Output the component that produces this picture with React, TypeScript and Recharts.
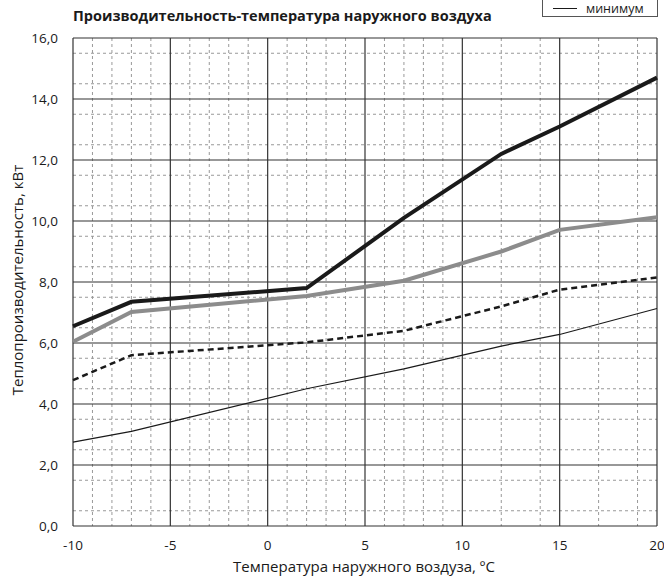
import React from 'react'
import { LineChart, Line, XAxis, YAxis, CartesianGrid } from 'recharts'

// outdoor temperature, °C
const temps = [-10, -7, 2, 7, 12, 15, 20]

// heating capacity, kW
const maxCapacity = [6.55, 7.35, 7.8, 10.1, 12.2, 13.1, 14.7]
const nominalCapacity = [6.04, 7.02, 7.54, 8.04, 9.0, 9.71, 10.12]
const midCapacity = [4.78, 5.6, 6.02, 6.4, 7.2, 7.75, 8.15]
const minCapacity = [2.75, 3.1, 4.5, 5.15, 5.9, 6.28, 7.13]

const xTicks = [-10, -5, 0, 5, 10, 15, 20]
const yTicks = [0, 2, 4, 6, 8, 10, 12, 14, 16]
const xMinor = [-9, -8, -7, -6, -4, -3, -2, -1, 1, 2, 3, 4, 6, 7, 8, 9, 11, 12, 13, 14, 16, 17, 18, 19]
const yMinor = [0.5, 1, 1.5, 2.5, 3, 3.5, 4.5, 5, 5.5, 6.5, 7, 7.5, 8.5, 9, 9.5, 10.5, 11, 11.5, 12.5, 13, 13.5, 14.5, 15, 15.5]

const data = temps.map((t, i) => ({
  t,
  max: maxCapacity[i],
  nom: nominalCapacity[i],
  mid: midCapacity[i],
  min: minCapacity[i],
}))

const FONT = '"Open Sans", "Noto Sans", sans-serif'
const fmt = (v: number) => v.toFixed(1).replace('.', ',')

export default function App() {
  return (
    <div style={{ position: 'absolute', left: 0, top: 0, width: 664, height: 586, background: '#fff', fontFamily: FONT, color: '#1a1a1a' }}>
      <div style={{ position: 'absolute', left: 73, top: 6, fontSize: 14.5, fontWeight: 700, whiteSpace: 'nowrap' }}>
        Производительность-температура наружного воздуха
      </div>

      <div style={{ position: 'absolute', left: 542, top: -2, width: 116, height: 19, border: '1px solid #555', boxSizing: 'border-box' }}>
        <div style={{ position: 'absolute', left: 10, top: 9, width: 24, borderTop: '1px solid #1a1a1a' }} />
        <div style={{ position: 'absolute', left: 43, top: 1, fontSize: 12.5 }}>минимум</div>
      </div>

      <div style={{ position: 'absolute', left: 17, top: 280, transform: 'translate(-50%, -50%) rotate(-90deg)', fontSize: 15, whiteSpace: 'nowrap' }}>
        Теплопроизводительность, кВт
      </div>

      <div style={{ position: 'absolute', left: 364, top: 566, transform: 'translate(-50%, -50%)', fontSize: 15, whiteSpace: 'nowrap' }}>
        Температура наружного воздуза, ºC
      </div>

      <LineChart width={664} height={586} data={data} margin={{ top: 38, right: 7, bottom: 30, left: 13 }}>
        <CartesianGrid stroke="#999" strokeDasharray="3 3" verticalValues={xMinor} horizontalValues={yMinor} />
        <CartesianGrid stroke="#333" strokeWidth={1.2} verticalValues={xTicks} horizontalValues={yTicks} />
        <XAxis
          dataKey="t"
          type="number"
          domain={[-10, 20]}
          ticks={xTicks}
          axisLine={false}
          tickLine={false}
          height={30}
          tick={{ fill: '#1a1a1a', fontSize: 13.5, fontFamily: FONT }}
          tickMargin={8}
        />
        <YAxis
          type="number"
          domain={[0, 16]}
          ticks={yTicks}
          axisLine={false}
          tickLine={false}
          width={60}
          tickFormatter={fmt}
          tick={{ fill: '#1a1a1a', fontSize: 13.5, fontFamily: FONT }}
          tickMargin={9}
        />
        <Line dataKey="max" stroke="#1a1a1a" strokeWidth={4} dot={false} isAnimationActive={false} />
        <Line dataKey="nom" stroke="#8c8c8c" strokeWidth={4} dot={false} isAnimationActive={false} />
        <Line dataKey="mid" stroke="#1a1a1a" strokeWidth={2.5} strokeDasharray="6 4" dot={false} isAnimationActive={false} />
        <Line dataKey="min" stroke="#1a1a1a" strokeWidth={1.2} dot={false} isAnimationActive={false} />
      </LineChart>
    </div>
  )
}
